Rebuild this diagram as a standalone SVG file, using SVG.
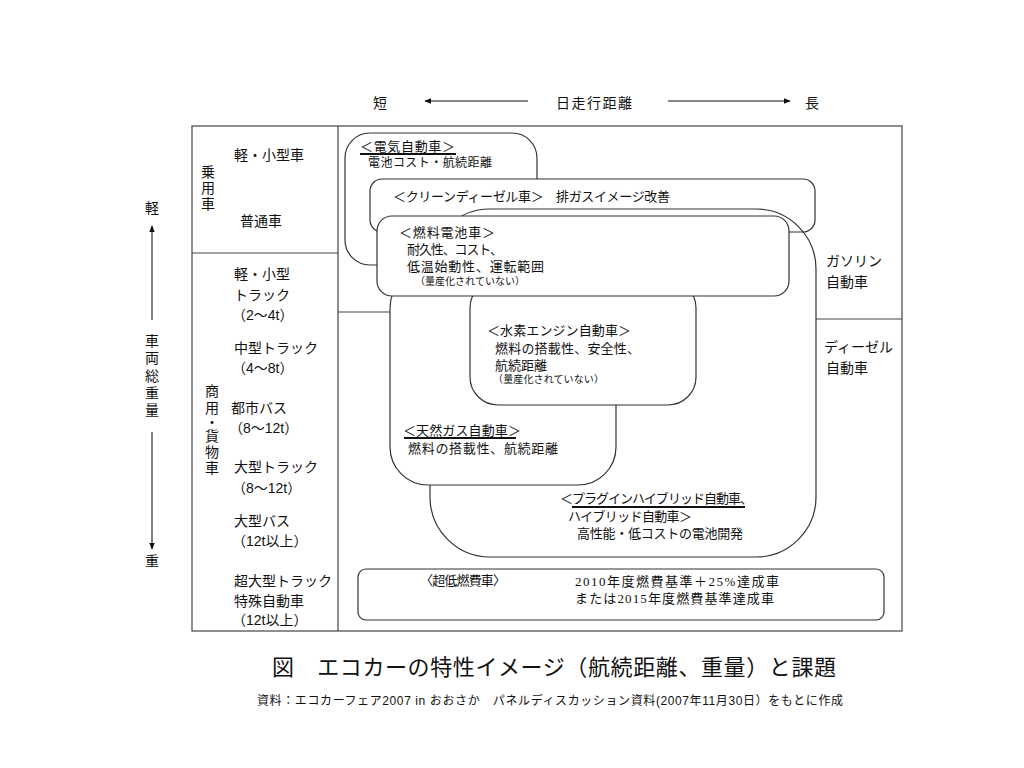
<svg xmlns="http://www.w3.org/2000/svg" width="1024" height="768" viewBox="0 0 1024 768">
<defs>
<style>
text{font-family:"Liberation Sans","Noto Sans CJK JP",sans-serif;fill:#111;dominant-baseline:central}
.t14{font-size:14px}
.t13{font-size:13px}
.t12{font-size:12px}
.t10{font-size:10px}
.mid{text-anchor:middle}
.line{stroke:#444;stroke-width:1.2;fill:none}
.box{stroke:#333;stroke-width:1.2;fill:#fff}
.boxn{stroke:#333;stroke-width:1.2;fill:none}
.ul{stroke:#111;stroke-width:2}
.serif{font-family:"Liberation Serif","Noto Sans CJK JP",serif}
</style>
<marker id="ah" viewBox="0 0 10 10" refX="9" refY="5" markerWidth="7" markerHeight="7" orient="auto-start-reverse" markerUnits="userSpaceOnUse">
<path d="M0,1 L10,5 L0,9 z" fill="#111"/>
</marker>
</defs>
<rect width="1024" height="768" fill="#fff"/>

<g id="table">
<rect x="192" y="126" width="710" height="505" class="line"/>
<line x1="338" y1="126" x2="338" y2="631" class="line"/>
<line x1="192" y1="253" x2="338" y2="253" class="line"/>
<line x1="338" y1="312" x2="391" y2="312" class="line"/>
<line x1="816" y1="319" x2="902" y2="319" class="line"/>
</g>

<g id="connectors">
<line x1="528" y1="101" x2="425" y2="101" stroke="#111" stroke-width="1.2" marker-end="url(#ah)"/>
<line x1="668" y1="101" x2="790" y2="101" stroke="#111" stroke-width="1.2" marker-end="url(#ah)"/>
<line x1="152" y1="320" x2="152" y2="226" stroke="#555" stroke-width="1.5" marker-end="url(#ah)"/>
<line x1="152" y1="432" x2="152" y2="549" stroke="#555" stroke-width="1.5" marker-end="url(#ah)"/>
</g>

<g id="axis-labels">
<text x="380" y="103" class="t14 mid">短</text>
<text x="594" y="103" class="t14 mid" textLength="76">日走行距離</text>
<text x="812" y="103" class="t14 mid">長</text>
<text x="152" y="208" class="t14 mid">軽</text>
<text x="152" y="341" class="t14 mid">車</text>
<text x="152" y="358" class="t14 mid">両</text>
<text x="152" y="376" class="t14 mid">総</text>
<text x="152" y="393" class="t14 mid">重</text>
<text x="152" y="410" class="t14 mid">量</text>
<text x="152" y="561" class="t14 mid">重</text>
</g>

<g id="row-labels">
<text x="208" y="172" class="t14 mid">乗</text>
<text x="208" y="188" class="t14 mid">用</text>
<text x="208" y="204" class="t14 mid">車</text>
<text x="234" y="155" class="t14">軽・小型車</text>
<text x="240" y="221" class="t14">普通車</text>
<text x="212" y="391" class="t14 mid">商</text>
<text x="212" y="408" class="t14 mid">用</text>
<text x="212" y="422" class="t14 mid">・</text>
<text x="212" y="436" class="t14 mid">貨</text>
<text x="212" y="452" class="t14 mid">物</text>
<text x="212" y="468" class="t14 mid">車</text>
<text x="234" y="274" class="t14">軽・小型</text>
<text x="234" y="295" class="t14">トラック</text>
<text x="232" y="315" class="t14">（2～4t）</text>
<text x="234" y="348" class="t14">中型トラック</text>
<text x="232" y="368" class="t14">（4～8t）</text>
<text x="231" y="408" class="t14">都市バス</text>
<text x="229" y="428" class="t14">（8～12t）</text>
<text x="234" y="467" class="t14">大型トラック</text>
<text x="232" y="488" class="t14">（8～12t）</text>
<text x="234" y="521" class="t14">大型バス</text>
<text x="232" y="541" class="t14">（12t以上）</text>
<text x="234" y="581" class="t14">超大型トラック</text>
<text x="234" y="601" class="t14">特殊自動車</text>
<text x="232" y="620" class="t14">（12t以上）</text>
<text x="826" y="261" class="t14">ガソリン</text>
<text x="826" y="282" class="t14">自動車</text>
<text x="824" y="347" class="t14">ディーゼル</text>
<text x="826" y="368" class="t14">自動車</text>
</g>

<g id="electric">
<rect x="345" y="133" width="192" height="132" rx="25" class="box"/>
<text x="360" y="146" class="t13" textLength="95">＜電気自動車＞</text>
<line x1="360" y1="154" x2="456" y2="154" class="ul"/>
<text x="368" y="163" class="t12" textLength="124">電池コスト・航続距離</text>
</g>

<g id="clean-diesel">
<rect x="370" y="179" width="445" height="53" rx="12" class="box"/>
<text x="393" y="196" class="t13" textLength="277">＜クリーンディーゼル車＞　排ガスイメージ改善</text>
</g>

<g id="phev">
<rect x="430" y="209" width="386" height="348" rx="60" class="boxn"/>
<text x="560" y="498" class="t13" textLength="193">＜プラグインハイブリッド自動車、</text>
<line x1="572" y1="507" x2="745" y2="507" class="ul"/>
<text x="568" y="516" class="t13" textLength="124">ハイブリッド自動車＞</text>
<text x="577" y="533" class="t13" textLength="166">高性能・低コストの電池開発</text>
</g>

<g id="natural-gas">
<rect x="390" y="270" width="226" height="215" rx="38" class="box"/>
<text x="403" y="430" class="t13" textLength="118">＜天然ガス自動車＞</text>
<line x1="404" y1="438" x2="516" y2="438" class="ul"/>
<text x="408" y="448" class="t13" textLength="150">燃料の搭載性、航続距離</text>
</g>

<g id="hydrogen">
<rect x="470" y="280" width="226" height="125" rx="28" class="box"/>
<text x="487" y="330" class="t13" textLength="144">＜水素エンジン自動車＞</text>
<text x="495" y="348" class="t13" textLength="145">燃料の搭載性、安全性、</text>
<text x="495" y="365" class="t13">航続距離</text>
<text x="493" y="379" class="t10" textLength="111">（量産化されていない）</text>
</g>

<g id="fuel-cell">
<rect x="377" y="216" width="412" height="80" rx="15" class="box"/>
<text x="399" y="232" class="t13" textLength="96">＜燃料電池車＞</text>
<text x="407" y="249" class="t13" textLength="96">耐久性、コスト、</text>
<text x="407" y="266" class="t13" textLength="137">低温始動性、運転範囲</text>
<text x="415" y="281" class="t10" textLength="110">（量産化されていない）</text>
</g>

<g id="ultra-low">
<rect x="358" y="569" width="526" height="51" rx="8" class="box" stroke-width="1.5"/>
<text x="420" y="580" class="t13" textLength="86">〈超低燃費車〉</text>
<text x="575" y="581" class="t13 serif" textLength="204">2010年度燃費基準＋25%達成車</text>
<text x="575" y="598" class="t13 serif" textLength="199">または2015年度燃費基準達成車</text>
</g>

<g id="caption">
<text x="272" y="667" style="font-size:22px" textLength="564">図　エコカーの特性イメージ（航続距離、重量）と課題</text>
<text x="257" y="701" class="t12" textLength="586">資料：エコカーフェア2007 in おおさか　パネルディスカッション資料(2007年11月30日）をもとに作成</text>
</g>
</svg>
